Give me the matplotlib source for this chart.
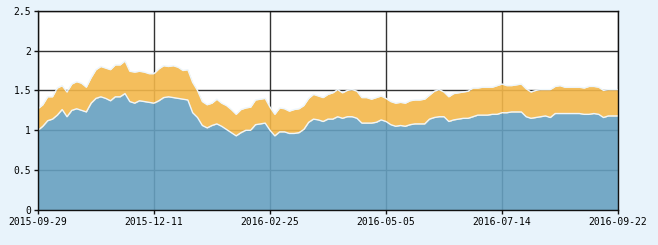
import numpy as np
import matplotlib
matplotlib.use("Agg")
import matplotlib.pyplot as plt

# lower series (blue area)
blue = [1.00, 1.05, 1.12, 1.14, 1.19, 1.26, 1.17, 1.25, 1.27, 1.25,
        1.23, 1.34, 1.40, 1.42, 1.40, 1.37, 1.42, 1.42, 1.46, 1.36,
        1.34, 1.37, 1.36, 1.35, 1.34, 1.37, 1.41, 1.42, 1.41, 1.40,
        1.39, 1.38, 1.22, 1.16, 1.06, 1.03, 1.06, 1.08, 1.05, 1.01,
        0.97, 0.93, 0.97, 1.00, 1.00, 1.07, 1.08, 1.09, 1.00, 0.93,
        0.98, 0.98, 0.96, 0.96, 0.97, 1.01, 1.10, 1.14, 1.13, 1.11,
        1.14, 1.14, 1.17, 1.15, 1.17, 1.17, 1.15, 1.09, 1.09, 1.09,
        1.10, 1.13, 1.11, 1.07, 1.05, 1.06, 1.05, 1.07, 1.08, 1.08,
        1.08, 1.14, 1.16, 1.17, 1.17, 1.11, 1.13, 1.14, 1.15, 1.15,
        1.17, 1.19, 1.19, 1.19, 1.20, 1.20, 1.22, 1.22, 1.23, 1.23,
        1.23, 1.17, 1.15, 1.16, 1.17, 1.18, 1.16, 1.21, 1.21, 1.21,
        1.21, 1.21, 1.21, 1.20, 1.20, 1.21, 1.20, 1.16, 1.18, 1.18,
        1.18]

# upper series (top of orange area)
orange = [1.27, 1.32, 1.42, 1.42, 1.53, 1.56, 1.48, 1.58, 1.61, 1.59,
          1.54, 1.66, 1.76, 1.80, 1.78, 1.76, 1.82, 1.82, 1.87, 1.74,
          1.73, 1.74, 1.73, 1.71, 1.71, 1.77, 1.81, 1.80, 1.81, 1.79,
          1.75, 1.76, 1.60, 1.50, 1.36, 1.32, 1.34, 1.39, 1.34, 1.31,
          1.26, 1.20, 1.26, 1.28, 1.29, 1.38, 1.39, 1.40, 1.29, 1.20,
          1.28, 1.27, 1.24, 1.26, 1.27, 1.31, 1.40, 1.45, 1.43, 1.41,
          1.45, 1.47, 1.51, 1.47, 1.50, 1.51, 1.49, 1.41, 1.41, 1.39,
          1.41, 1.43, 1.40, 1.36, 1.34, 1.35, 1.34, 1.37, 1.38, 1.38,
          1.39, 1.44, 1.49, 1.51, 1.48, 1.42, 1.46, 1.47, 1.48, 1.49,
          1.53, 1.53, 1.54, 1.54, 1.54, 1.56, 1.58, 1.56, 1.56, 1.57,
          1.58, 1.52, 1.48, 1.50, 1.51, 1.51, 1.51, 1.55, 1.56, 1.54,
          1.54, 1.54, 1.54, 1.53, 1.55, 1.55, 1.54, 1.50, 1.51, 1.51,
          1.51]

tick_labels = ["2015-09-29", "2015-12-11", "2016-02-25",
               "2016-05-05", "2016-07-14", "2016-09-22"]
yticks = [0, 0.5, 1, 1.5, 2, 2.5]
ytick_labels = ["0", "0.5", "1", "1.5", "2", "2.5"]

x = np.arange(len(blue))
step = (len(blue) - 1) // (len(tick_labels) - 1)

bg = "#e8f3fb"
fig = plt.figure(figsize=(6.58, 2.45), dpi=100, facecolor=bg)
ax = fig.add_axes([38 / 658, 35 / 245, 580 / 658, 199.3 / 245])
ax.set_facecolor("white")

ax.fill_between(x, 0, blue, color="#66a0c0", alpha=0.9, lw=0, zorder=2)
ax.fill_between(x, blue, orange, color="#f3b74a", alpha=0.9, lw=0, zorder=2)
ax.plot(x, blue, color="#eef6fb", lw=1.0, zorder=3)
ax.plot(x, orange, color="#eef6fb", lw=1.0, zorder=3)

ax.set_xlim(0, len(blue) - 1)
ax.set_ylim(0, 2.5)
ax.set_xticks(x[::step])
ax.set_xticklabels(tick_labels)
ax.set_yticks(yticks)
ax.set_yticklabels(ytick_labels)

ax.set_axisbelow(True)
ax.grid(True, color="#333333", lw=1.0, zorder=1)
for s in ax.spines.values():
    s.set_color("#111111")
    s.set_linewidth(1.0)
    s.set_zorder(4)

ax.tick_params(direction="out", length=3, width=1, color="#111111",
               labelsize=7, pad=2)
for lab in ax.get_xticklabels() + ax.get_yticklabels():
    lab.set_family("DejaVu Sans Mono")

fig.savefig("out.png", dpi=100, facecolor=bg)
